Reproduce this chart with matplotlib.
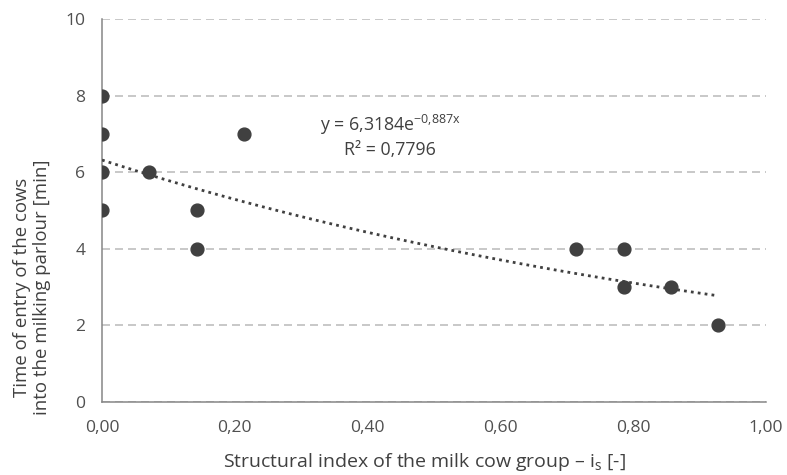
import numpy as np
import matplotlib.pyplot as plt
from matplotlib.ticker import FuncFormatter

plt.rcParams['font.family'] = ['Open Sans', 'DejaVu Sans']
plt.rcParams['mathtext.fontset'] = 'custom'
plt.rcParams['mathtext.rm'] = 'Open Sans'
plt.rcParams['mathtext.it'] = 'Open Sans'

# data points (x = structural index, y = time of entry)
x = [0, 0, 0, 0, 1/14, 2/14, 2/14, 3/14, 10/14, 11/14, 11/14, 12/14, 13/14]
y = [8, 7, 6, 5, 6, 5, 4, 7, 4, 4, 3, 3, 2]

# exponential trend from the chart
a = 6.3184
b = -0.887

txt = '#404040'

fig = plt.figure(figsize=(7.87, 4.75), dpi=100)
ax = fig.add_axes([0.1296, 0.1537, 0.8434, 0.8063])

xt = np.linspace(0, max(x), 100)
ax.plot(xt, a*np.exp(b*xt), linestyle=(0, (1, 1.5)), color='#404040', linewidth=2, zorder=3)
ax.scatter(x, y, s=85, color='#404040', zorder=4)

ax.set_xlim(0, 1)
ax.set_ylim(0, 10)
ax.set_xticks(np.arange(0, 1.01, 0.2))
ax.set_yticks(range(0, 11, 2))
ax.xaxis.set_major_formatter(FuncFormatter(lambda v, p: f"{v:.2f}".replace('.', ',')))
ax.grid(axis='y', linestyle=(0, (4.8, 3)), color='#bfbfbf', linewidth=1.2)
ax.set_axisbelow(True)
for s in ['top', 'right']:
    ax.spines[s].set_visible(False)
for s in ['left', 'bottom']:
    ax.spines[s].set_color('#868686')
    ax.spines[s].set_linewidth(1.1)
ax.tick_params(length=0, labelsize=12.6, colors='#505050')
ax.tick_params(axis='y', pad=12)
ax.tick_params(axis='x', pad=13)

ax.text(0.434, 7.23, "y = 6,3184e$^{\\mathrm{-0{,}887x}}$", ha='center', va='center', fontsize=12.8, color=txt)
ax.text(0.434, 6.58, "R² = 0,7796", ha='center', va='center', fontsize=12.8, color=txt)

fig.text(0.54, 0.0168, "Structural index of the milk cow group – i$_{\\mathrm{s}}$ [-]",
         ha='center', va='baseline', fontsize=14, color=txt)
fig.text(0.0407, 0.395, "Time of entry of the cows\ninto the milking parlour [min]",
         ha='center', va='center', rotation=90, multialignment='center', fontsize=13.4, color=txt)

fig.savefig("out.png")
